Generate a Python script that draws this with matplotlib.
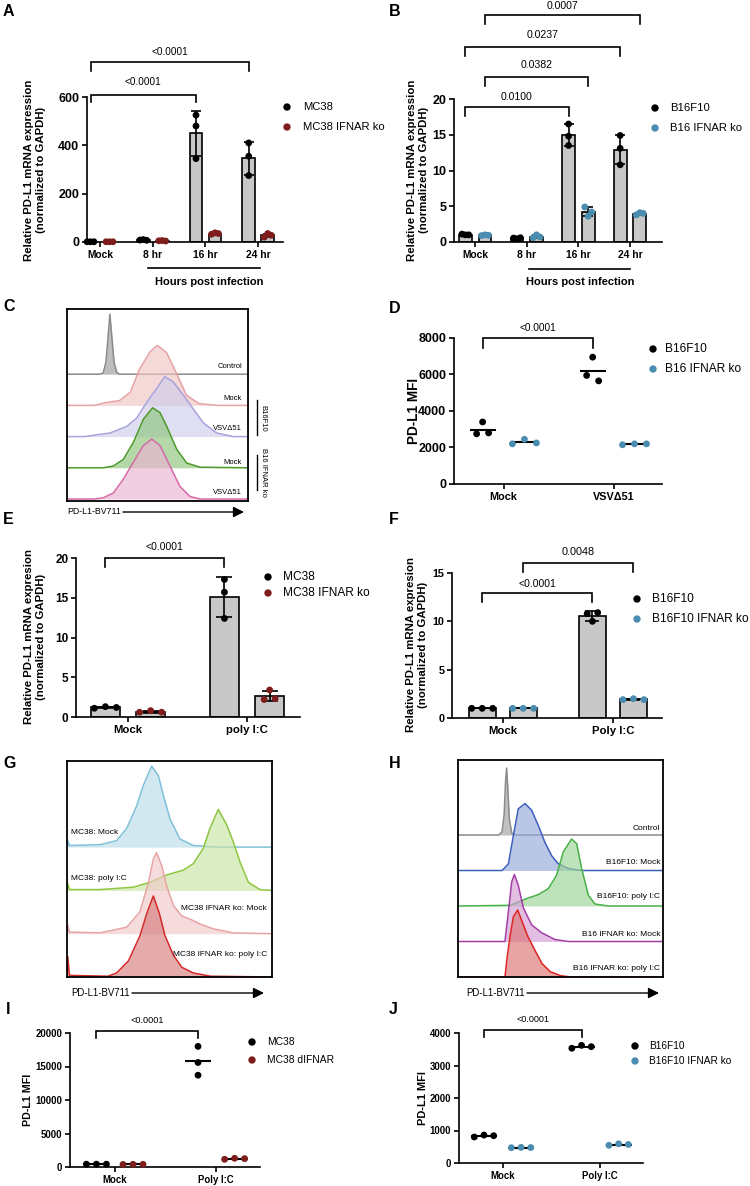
import numpy as np
import matplotlib
matplotlib.use('Agg')
import matplotlib.pyplot as plt

plt.rcParams['font.family'] = ['Liberation Sans', 'DejaVu Sans']

# ---------------- data ----------------
A_categories = ['Mock', '8 hr', '16 hr', '24 hr']
A_mc38 = [[1, 1, 1], [8, 10, 7], [525, 480, 345], [410, 355, 275]]
A_ko = [[1, 1, 1], [5, 6, 4], [32, 38, 35], [20, 35, 28]]
A_yticks = [0, 200, 400, 600]
A_legend = ['MC38', 'MC38 IFNAR ko']
A_pvals = ['<0.0001', '<0.0001']

B_categories = ['Mock', '8 hr', '16 hr', '24 hr']
B_b16 = [[1.1, 1.0, 1.0], [0.55, 0.45, 0.6], [16.5, 14.8, 13.5], [14.9, 13.1, 10.8]]
B_ko = [[0.9, 1.0, 0.95], [0.6, 1.0, 0.7], [4.9, 3.6, 4.2], [3.8, 4.1, 4.0]]
B_yticks = [0, 5, 10, 15, 20]
B_legend = ['B16F10', 'B16 IFNAR ko']
B_pvals = ['0.0100', '0.0382', '0.0237', '0.0007']

D_categories = ['Mock', 'VSVΔ51']
D_b16 = [[2750, 3400, 2800], [5950, 6950, 5650]]
D_ko = [[2200, 2450, 2250], [2150, 2200, 2200]]
D_yticks = [0, 2000, 4000, 6000, 8000]
D_legend = ['B16F10', 'B16 IFNAR ko']

E_categories = ['Mock', 'poly I:C']
E_mc38 = [[1.1, 1.3, 1.2], [17.3, 15.7, 12.4]]
E_ko = [[0.6, 0.8, 0.6], [2.2, 3.4, 2.3]]
E_yticks = [0, 5, 10, 15, 20]
E_legend = ['MC38', 'MC38 IFNAR ko']

F_categories = ['Mock', 'Poly I:C']
F_b16 = [[1.0, 1.0, 1.0], [10.8, 10.0, 10.9]]
F_ko = [[1.0, 1.0, 1.0], [1.9, 2.0, 1.9]]
F_yticks = [0, 5, 10, 15]
F_legend = ['B16F10', 'B16F10 IFNAR ko']
F_pvals = ['<0.0001', '0.0048']

I_categories = ['Mock', 'Poly I:C']
I_mc38 = [[420, 420, 420], [18000, 15600, 13700]]
I_ko = [[380, 400, 400], [1150, 1300, 1250]]
I_yticks = [0, 5000, 10000, 15000, 20000]
I_legend = ['MC38', 'MC38 dIFNAR']

J_categories = ['Mock', 'Poly I:C']
J_b16 = [[800, 860, 840], [3530, 3620, 3580]]
J_ko = [[470, 480, 475], [545, 590, 570]]
J_yticks = [0, 1000, 2000, 3000, 4000]
J_legend = ['B16F10', 'B16F10 IFNAR ko']

# flow histograms: x = fraction of axis, y = % of mode
C_labels = ['Control', 'Mock', 'VSVΔ51', 'Mock', 'VSVΔ51']
C_control_x = [0, 0.18, 0.2, 0.215, 0.225, 0.237, 0.25, 0.26, 0.275, 0.29, 1]
C_control_y = [0, 0, 2, 20, 55, 100, 55, 20, 3, 0, 0]
C_mock_x = [0, 0.15, 0.22, 0.29, 0.35, 0.40, 0.46, 0.50, 0.55, 0.61, 0.66, 0.73, 0.83, 1]
C_mock_y = [0, 0, 5, 8, 22, 60, 90, 100, 88, 50, 17, 3, 0, 0]
C_vsv_x = [0, 0.1, 0.164, 0.238, 0.33, 0.385, 0.44, 0.495, 0.54, 0.587, 0.643, 0.698, 0.753, 0.827, 0.92, 1]
C_vsv_y = [0, 0, 3, 6, 17, 31, 57, 80, 100, 91, 69, 46, 23, 6, 0, 0]
C_komock_x = [0, 0.2, 0.256, 0.311, 0.366, 0.422, 0.473, 0.514, 0.551, 0.606, 0.661, 0.735, 1]
C_komock_y = [0, 0, 3, 14, 42, 81, 100, 92, 69, 31, 8, 1, 0]
C_kovsv_x = [0, 0.15, 0.2, 0.256, 0.311, 0.366, 0.422, 0.468, 0.514, 0.569, 0.624, 0.68, 0.735, 1]
C_kovsv_y = [0, 0, 2, 10, 33, 61, 89, 100, 89, 55, 21, 4, 0, 0]

G_labels = ['MC38: Mock', 'MC38: poly I:C', 'MC38 IFNAR ko: Mock', 'MC38 IFNAR ko: poly I:C']
G_mock_x = [0, 0.004, 0.012, 0.161, 0.242, 0.291, 0.34, 0.372, 0.413, 0.446, 0.47, 0.502, 0.551, 0.616, 0.73, 1]
G_mock_y = [0, 8, 2, 3, 8, 23, 51, 76, 100, 88, 64, 35, 10, 2, 0, 0]
G_poly_x = [0, 0.004, 0.012, 0.161, 0.324, 0.405, 0.486, 0.567, 0.616, 0.665, 0.698, 0.738, 0.779, 0.811, 0.844, 0.885, 0.941, 1]
G_poly_y = [0, 8, 1, 1, 4, 10, 19, 25, 33, 52, 77, 100, 81, 60, 35, 10, 1, 0]
G_komock_x = [0, 0.004, 0.012, 0.161, 0.291, 0.356, 0.397, 0.421, 0.437, 0.462, 0.486, 0.519, 0.559, 0.6, 0.649, 0.714, 0.811, 1]
G_komock_y = [0, 10, 2, 1, 8, 27, 63, 92, 100, 84, 59, 35, 22, 18, 12, 6, 1, 0]
G_kopoly_x = [0, 0.004, 0.012, 0.2, 0.242, 0.3, 0.356, 0.39, 0.421, 0.45, 0.478, 0.519, 0.56, 0.616, 0.7, 1]
G_kopoly_y = [0, 25, 2, 1, 5, 20, 51, 79, 100, 79, 51, 27, 12, 5, 1, 0]

H_labels = ['Control', 'B16F10: Mock', 'B16F10: poly I:C', 'B16 IFNAR ko: Mock', 'B16 IFNAR ko: poly I:C']
H_control_x = [0, 0.2, 0.215, 0.225, 0.232, 0.237, 0.243, 0.25, 0.262, 0.28, 1]
H_control_y = [0, 0, 5, 30, 80, 100, 70, 25, 3, 0, 0]
H_mock_x = [0, 0.215, 0.246, 0.27, 0.294, 0.327, 0.359, 0.392, 0.424, 0.457, 0.489, 0.538, 0.603, 1]
H_mock_y = [0, 0, 10, 52, 92, 100, 90, 67, 42, 22, 10, 3, 0, 0]
H_poly_x = [0, 0.254, 0.294, 0.343, 0.392, 0.441, 0.481, 0.514, 0.554, 0.579, 0.603, 0.636, 0.668, 0.733, 1]
H_poly_y = [0, 1, 6, 12, 17, 26, 46, 81, 100, 93, 56, 16, 3, 0, 0]
H_komock_x = [0, 0.229, 0.246, 0.262, 0.275, 0.294, 0.319, 0.359, 0.408, 0.473, 0.538, 1]
H_komock_y = [0, 0, 45, 89, 100, 84, 50, 25, 13, 3, 0, 0]
H_kopoly_x = [0, 0.229, 0.24, 0.254, 0.27, 0.291, 0.31, 0.34, 0.375, 0.41, 0.45, 0.5, 0.55, 1]
H_kopoly_y = [0, 0, 30, 61, 90, 100, 85, 61, 40, 20, 8, 2, 0, 0]

# ---------------- style ----------------
W, H = 750, 1186
fig = plt.figure(figsize=(W / 100, H / 100), dpi=100)
BLACK = '#000000'
RED = '#7f1d1d'
BLUE = '#4a8db0'
BARGRAY = '#c8c8c8'
LW = 1.2
MS = 24  # scatter size


def add_ax(x0, y0, x1, y1):
    return fig.add_axes([x0 / W, 1 - y1 / H, (x1 - x0) / W, (y1 - y0) / H])


def style(ax, xlim, ylim, yticks, cats, tfs, cfs):
    ax.set_xlim(*xlim)
    ax.set_ylim(ylim)
    for s in ['top', 'right']:
        ax.spines[s].set_visible(False)
    for s in ['left', 'bottom']:
        ax.spines[s].set_linewidth(LW)
    ax.set_yticks(yticks)
    ax.set_yticklabels([str(t) for t in yticks], fontsize=tfs, fontweight='bold')
    ax.set_xticks(range(len(cats)))
    ax.set_xticklabels(cats, fontsize=cfs, fontweight='bold')
    ax.tick_params(width=LW, length=3.5, pad=2)
    ax.patch.set_alpha(0)


def swarm_x(ax, xc, vals, spacing_px, diam_px=6.5):
    vals = np.asarray(vals, dtype=float)
    ypx = ax.transData.transform(np.column_stack([np.zeros(len(vals)), vals]))[:, 1]
    pxu = ax.transData.transform((1, 0))[0] - ax.transData.transform((0, 0))[0]
    order = np.argsort(ypx, kind='stable')
    clusters, cur = [], [order[0]]
    for a, b in zip(order[:-1], order[1:]):
        if ypx[b] - ypx[a] < diam_px:
            cur.append(b)
        else:
            clusters.append(cur)
            cur = [b]
    clusters.append(cur)
    offs = np.zeros(len(vals))
    for c in clusters:
        c = sorted(c)
        k = len(c)
        for j, i in enumerate(c):
            offs[i] = (j - (k - 1) / 2) * spacing_px
    return xc + offs / pxu


def bar_panel(ax, series, colors, offset, width, spacing_px, capsize):
    for si, (data, col) in enumerate(zip(series, colors)):
        off = -offset if si == 0 else offset
        for ci, vals in enumerate(data):
            x = ci + off
            m = np.mean(vals)
            sd = np.std(vals, ddof=1)
            ax.bar(x, m, width, color=BARGRAY, edgecolor='black', linewidth=LW, zorder=2)
            ax.errorbar(x, m, yerr=sd, color='black', capsize=capsize, elinewidth=LW,
                        capthick=LW, zorder=3, fmt='none')
            xs = swarm_x(ax, x, vals, spacing_px)
            ax.scatter(xs, vals, s=MS, color=col, zorder=4, clip_on=False, edgecolors='none')


def dot_panel(ax, series, colors, offset, spacing_px, hw_px=13):
    pxu = ax.transData.transform((1, 0))[0] - ax.transData.transform((0, 0))[0]
    hw = hw_px / pxu
    for si, (data, col) in enumerate(zip(series, colors)):
        off = -offset if si == 0 else offset
        for ci, vals in enumerate(data):
            x = ci + off
            m = np.mean(vals)
            ax.plot([x - hw, x + hw], [m, m], color='black', lw=1.5, zorder=3, solid_capstyle='butt')
            xs = swarm_x(ax, x, vals, spacing_px)
            ax.scatter(xs, vals, s=MS, color=col, zorder=4, clip_on=False, edgecolors='none')


def bracket(ax, x1, x2, ytop, yfoot, ylab, text, fs):
    ax.plot([x1, x1, x2, x2], [yfoot, ytop, ytop, yfoot], color='black', lw=LW,
            clip_on=False, zorder=5, solid_joinstyle='miter')
    ax.text((x1 + x2) / 2, ylab, text, ha='center', va='center', fontsize=fs, clip_on=False)


def flow_panel(ax, samples, b0, spacing, peak_px, hpx):
    ax.set_xlim(0, 1)
    ax.set_ylim(0, hpx)
    n = len(samples)
    for k, (xs, ys, lc, fc) in enumerate(samples):
        lane = n - 1 - k
        base = b0 + lane * spacing
        yy = base + np.asarray(ys, dtype=float) / 100 * peak_px
        ax.fill_between(xs, base, yy, color=fc, alpha=0.65, lw=0, zorder=2 + k)
        ax.plot(xs, yy, color=lc, lw=1.1, zorder=2 + k)
    ax.set_xticks([])
    ax.set_yticks([])
    for s in ax.spines.values():
        s.set_linewidth(1.3)
        s.set_zorder(20)


# ---------------- Panel A ----------------
axA = add_ax(87, 97, 283, 242)
style(axA, (-0.247, 3.47), (0, 600), A_yticks, A_categories, 9, 7.4)
bar_panel(axA, [A_mc38, A_ko], [BLACK, RED], 0.18, 0.24, 3.4, 3.6)
bracket(axA, 0 - 0.18, 2 - 0.18, 608, 579, 662, A_pvals[0], 7.2)
bracket(axA, 0 - 0.18, 3 - 0.18, 745, 708, 786, A_pvals[1], 7.2)

# ---------------- Panel B ----------------
axB = add_ax(454, 99, 662, 242)
style(axB, (-0.41, 3.62), (0, 20), B_yticks, B_categories, 9, 7.4)
bar_panel(axB, [B_b16, B_ko], [BLACK, BLUE], 0.19, 0.245, 3.4, 3.6)
bracket(axB, 0 - 0.19, 2 - 0.19, 18.9, 17.6, 20.3, B_pvals[0], 7.6)
bracket(axB, 0 + 0.19, 2 + 0.19, 23.1, 21.8, 24.8, B_pvals[1], 7.6)
bracket(axB, 0 - 0.19, 3 - 0.19, 27.3, 26.0, 29.0, B_pvals[2], 7.6)
bracket(axB, 0 + 0.19, 3 + 0.19, 31.7, 30.5, 33.0, B_pvals[3], 7.6)

# ---------------- Panel C ----------------
axC = add_ax(67, 309, 248, 501)
flow_panel(axC, [
    (C_control_x, C_control_y, '#8a8a8a', '#9a9a9a'),
    (C_mock_x, C_mock_y, '#e6a3a3', '#f0c4c4'),
    (C_vsv_x, C_vsv_y, '#a7a3dc', '#cfcdec'),
    (C_komock_x, C_komock_y, '#4c9a2a', '#8cc47a'),
    (C_kovsv_x, C_kovsv_y, '#d66aa8', '#eab2d3'),
], 2, 31.2, 60, 192)

# ---------------- Panel D ----------------
axD = add_ax(454, 338, 662, 484)
style(axD, (-0.45, 1.44), (0, 8000), D_yticks, D_categories, 9, 7.8)
dot_panel(axD, [D_b16, D_ko], [BLACK, BLUE], 0.19, 12)
bracket(axD, 0 - 0.19, 1 - 0.19, 8000, 7450, 8550, '<0.0001', 7.3)

# ---------------- Panel E ----------------
axE = add_ax(76, 558, 300, 717)
style(axE, (-0.437, 1.445), (0, 20), E_yticks, E_categories, 8.5, 8.2)
bar_panel(axE, [E_mc38, E_ko], [BLACK, RED], 0.19, 0.245, 11, 6)
bracket(axE, 0 - 0.19, 1 - 0.19, 20.0, 18.9, 21.4, '<0.0001', 7.5)

# ---------------- Panel F ----------------
axF = add_ax(452, 573, 662, 718)
style(axF, (-0.46, 1.445), (0, 15), F_yticks, F_categories, 7.8, 8.2)
bar_panel(axF, [F_b16, F_ko], [BLACK, BLUE], 0.186, 0.245, 10.5, 5)
bracket(axF, 0 - 0.186, 1 - 0.186, 12.9, 12.0, 13.85, F_pvals[0], 7.5)
bracket(axF, 0 + 0.186, 1 + 0.186, 16.0, 15.1, 17.2, F_pvals[1], 7.8)

# ---------------- Panel G ----------------
axG = add_ax(67, 761, 272, 977)
flow_panel(axG, [
    (G_mock_x, G_mock_y, '#7fc1d9', '#b9dde9'),
    (G_poly_x, G_poly_y, '#8dc63f', '#c8e4a2'),
    (G_komock_x, G_komock_y, '#e8a4a4', '#f1c9c9'),
    (G_kopoly_x, G_kopoly_y, '#d42a2a', '#d77d7d'),
], 0, 43.3, 81, 216)

# ---------------- Panel H ----------------
axH = add_ax(458, 760, 663, 977)
flow_panel(axH, [
    (H_control_x, H_control_y, '#8a8a8a', '#a0a0a0'),
    (H_mock_x, H_mock_y, '#3f5fbf', '#94a8da'),
    (H_poly_x, H_poly_y, '#46b046', '#9bd596'),
    (H_komock_x, H_komock_y, '#a43ea4', '#d39bd3'),
    (H_kopoly_x, H_kopoly_y, '#e02424', '#dc7474'),
], 0, 35.5, 67, 217)

# ---------------- Panel I ----------------
axI = add_ax(70, 1033, 260, 1167)
style(axI, (-0.44, 1.43), (0, 20000), I_yticks, I_categories, 6.9, 6.9)
dot_panel(axI, [I_mc38, I_ko], [BLACK, RED], 0.18, 10)
bracket(axI, 0 - 0.18, 1 - 0.18, 20300, 19250, 21940, '<0.0001', 6.6)

# ---------------- Panel J ----------------
axJ = add_ax(459, 1033, 643, 1163)
style(axJ, (-0.446, 1.44), (0, 4000), J_yticks, J_categories, 6.9, 6.9)
dot_panel(axJ, [J_b16, J_ko], [BLACK, BLUE], 0.19, 9.7)
bracket(axJ, 0 - 0.19, 1 - 0.19, 4092, 3877, 4400, '<0.0001', 6.5)

# ---------------- overlay (pixel coordinates) ----------------
ov = fig.add_axes([0, 0, 1, 1])
ov.set_xlim(0, W)
ov.set_ylim(H, 0)
ov.axis('off')
ov.patch.set_alpha(0)

for lab, (x, y) in zip('ABCDEFGHIJ', [(3, 4), (389, 4), (3, 299), (389, 301), (3, 512),
                                       (389, 512), (3, 756), (389, 756), (6, 1002), (389, 1002)]):
    ov.text(x, y, lab, fontsize=11.5, fontweight='bold', ha='left', va='top')


def legend(xd, xt, ys, labels, colors, fs):
    for y, lab, c in zip(ys, labels, colors):
        ov.scatter([xd], [y], s=MS + 4, color=c, edgecolors='none')
        ov.text(xt, y, lab, fontsize=fs, ha='left', va='center')


legend(287, 303, [107, 127], A_legend, [BLACK, RED], 8.1)
legend(655, 670, [108, 128], B_legend, [BLACK, BLUE], 8.1)
legend(653, 665, [349, 369], D_legend, [BLACK, BLUE], 8.6)
legend(268, 283, [577, 593], E_legend, [BLACK, RED], 8.6)
legend(637, 652, [599, 619], F_legend, [BLACK, BLUE], 8.6)
legend(252, 267, [1042, 1060], I_legend, [BLACK, RED], 7.4)
legend(635, 649, [1046, 1061], J_legend, [BLACK, BLUE], 7.3)

ylab2 = 'Relative PD-L1 mRNA expression\n(normalized to GAPDH)'
ylab2b = 'Relative PD-L1 mRNA expresion\n(normalized to GAPDH)'
for x, y, t, fs in [(35, 170, ylab2, 8.2), (418, 170, ylab2, 8.2), (35.5, 637, ylab2b, 8.2),
                    (417.5, 645, ylab2b, 8.2), (414, 411, 'PD-L1 MFI', 9.8),
                    (28, 1100, 'PD-L1 MFI', 7.7), (423, 1098, 'PD-L1 MFI', 7.9)]:
    ov.text(x, y, t, rotation=90, ha='center', va='center', fontsize=fs, fontweight='bold',
            multialignment='center', linespacing=1.25)

# hours post infection
ov.plot([148, 260], [268, 268], color='black', lw=LW)
ov.text(209, 282, 'Hours post infection', ha='center', va='center', fontsize=8, fontweight='bold')
ov.plot([529, 630], [269, 269], color='black', lw=LW)
ov.text(580, 282, 'Hours post infection', ha='center', va='center', fontsize=8, fontweight='bold')

# flow labels C
for t, y in zip(C_labels, [366, 398, 428, 462, 492]):
    ov.text(242, y, t, ha='right', va='center', fontsize=5.5)
ov.plot([257, 257], [400, 435], color='black', lw=1.0)
ov.plot([257, 257], [455, 490], color='black', lw=1.0)
ov.text(263, 418, 'B16F10', rotation=270, ha='center', va='center', fontsize=5.5)
ov.text(263, 472, 'B16 IFNAR ko', rotation=270, ha='center', va='center', fontsize=5.5)

# flow labels G
ov.text(71, 832, G_labels[0], ha='left', va='center', fontsize=6)
ov.text(71, 878, G_labels[1], ha='left', va='center', fontsize=6)
ov.text(267, 909, G_labels[2], ha='right', va='center', fontsize=6)
ov.text(267, 955, G_labels[3], ha='right', va='center', fontsize=6)

# flow labels H
for t, y in zip(H_labels, [829, 863, 897, 934, 968]):
    ov.text(660, y, t, ha='right', va='center', fontsize=6)

# fluorescence axis captions with arrows
for x0, x1, xa, y, fs in [(67, 123, 244, 512, 6.3), (71, 132, 264, 993, 6.9), (466, 527, 659, 993, 6.9)]:
    ov.text(x0, y, 'PD-L1-BV711', ha='left', va='center', fontsize=fs)
    ov.annotate('', xy=(xa, y), xytext=(x1, y),
                arrowprops=dict(arrowstyle='-|>', lw=1.0, color='black', mutation_scale=16,
                                shrinkA=0, shrinkB=0))

fig.savefig('out.png', dpi=100)
